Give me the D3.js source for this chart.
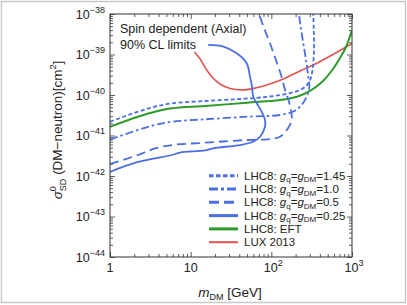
<!DOCTYPE html>
<html><head><meta charset="utf-8">
<script src="https://cdn.jsdelivr.net/npm/d3@7"></script>
<style>
body{margin:0;background:#fff}
svg{display:block}
text{font-family:"Liberation Sans",Arial,Helvetica,sans-serif;fill:#222}
</style>
</head><body>
<svg id="c" width="407" height="305"></svg>
<script>
// ---- data (mass in GeV, cross section in cm^2) ----
const mLUX   = [11.15,13.1,15.5,18.4,23.1,30.8,43.3,61,87.5,141,227,365,586,1000];
const sLUX   = [1.15e-39,7.74e-40,4.39e-40,2.78e-40,1.87e-40,1.45e-40,1.34e-40,1.46e-40,1.77e-40,2.48e-40,3.92e-40,6.07e-40,1.01e-39,1.87e-39];

const mEFT   = [1,2.22,3.61,5.87,15.1,49.9,128,208,302,437,581,710,842,1000];
const sEFT   = [1.65e-41,2.91e-41,3.87e-41,4.70e-41,5.35e-41,6.46e-41,7.53e-41,9.08e-41,1.26e-40,2.22e-40,4.39e-40,8.20e-40,1.53e-39,4.03e-39];

const m145   = [1,2.22,3.61,5.87,15.1,40.9,96.2,170,227,269,302,324,338,336,331];
const s145   = [2.19e-41,3.87e-41,5.14e-41,6.24e-41,7.11e-41,7.96e-41,9.18e-41,1.12e-40,1.33e-40,1.67e-40,2.34e-40,4.14e-40,1.29e-39,4.03e-39,1e-38];

const m100   = [1,2.22,3.61,5.87,15.1,49.9,128,185,227,274,296,287,269,249,231,220];
const s100   = [7.96e-42,1.37e-41,1.82e-41,2.19e-41,2.51e-41,2.91e-41,3.21e-41,3.87e-41,5.14e-41,9.08e-41,1.60e-40,2.83e-40,7.31e-40,1.89e-39,4.85e-39,1e-38];

const m050   = [1,2.22,3.61,5.87,15.1,49.9,88.3,128,161,179,175,163,148,134,114,96.2,81.1,70.3];
const s050   = [1.98e-42,3.30e-42,4.78e-42,5.82e-42,6.64e-42,7.74e-42,8.05e-42,9.33e-42,1.51e-41,2.42e-41,4.27e-41,7.53e-41,1.33e-40,2.83e-40,7.31e-40,1.89e-39,4.51e-39,1e-38];

const m025   = [1,2.22,5.87,7.38,15.1,18.9,40.9,59.3,72.3,83.4,83.4,75.9,65.9,59.7,57.1,54.4,49.5,37.2,25.4,16.5];
const s025   = [1.26e-42,2.22e-42,3.30e-42,3.80e-42,4.27e-42,4.83e-42,5.82e-42,7.03e-42,9.33e-42,1.65e-41,2.42e-41,3.87e-41,6.24e-41,9.08e-41,1.77e-40,2.83e-40,6.07e-40,1.07e-39,1.56e-39,1.72e-39];

const xMajor = [1,10,100,1000];
const xLabelBase = ["1","10","10","10"];
const xLabelExp  = ["","","2","3"];
const yExponents = [-44,-43,-42,-41,-40,-39,-38];

const legendSeries = [
  {key:"1.45", dash:"4.5,2.5", color:"#4a6fe3", w:3},
  {key:"1.0",  dash:"9,3,3,3", color:"#4a6fe3", w:3},
  {key:"0.5",  dash:"10,5",    color:"#4a6fe3", w:3},
  {key:"0.25", dash:null,      color:"#4a6fe3", w:3},
  {key:"EFT",  dash:null,      color:"#2e9a2a", w:3},
  {key:"LUX",  dash:null,      color:"#e0524c", w:2}
];

// ---- layout ----
const svg = d3.select("#c");
const L=110, R=352, T=14, B=257;
const x = d3.scaleLog().domain([1,1000]).range([L,R]);
const y = d3.scaleLog().domain([1e-44,1e-38]).range([B,T]);

// outer border
svg.append("rect").attr("x",1.5).attr("y",1.5).attr("width",404).attr("height",301)
  .attr("fill","none").attr("stroke","#c9c9c9").attr("stroke-width",1.5);

// minor tick values
const xMinor=[], yMinor=[];
[1,10,100].forEach(d=>{for(let k=2;k<=9;k++) xMinor.push(k*d);});
for(let e=-44;e<-38;e++){for(let k=2;k<=9;k++) yMinor.push(k*Math.pow(10,e));}
const yMajor = yExponents.map(e=>Math.pow(10,e));

function axisG(axis, tx, ty){
  const g = svg.append("g").attr("transform",`translate(${tx},${ty})`).call(axis);
  g.select(".domain").remove();
  g.selectAll("line").attr("stroke","#333").attr("stroke-width",0.8);
  return g;
}
axisG(d3.axisBottom(x).tickValues(xMajor).tickSize(-5).tickFormat(""),0,B);
axisG(d3.axisBottom(x).tickValues(xMinor).tickSize(-3).tickFormat(""),0,B);
axisG(d3.axisTop(x).tickValues(xMajor).tickSize(-5).tickFormat(""),0,T);
axisG(d3.axisTop(x).tickValues(xMinor).tickSize(-3).tickFormat(""),0,T);
axisG(d3.axisLeft(y).tickValues(yMajor).tickSize(-5).tickFormat(""),L,0);
axisG(d3.axisLeft(y).tickValues(yMinor).tickSize(-3).tickFormat(""),L,0);
axisG(d3.axisRight(y).tickValues(yMajor).tickSize(-5).tickFormat(""),R,0);
axisG(d3.axisRight(y).tickValues(yMinor).tickSize(-3).tickFormat(""),R,0);

// clip
svg.append("clipPath").attr("id","clip").append("rect")
  .attr("x",L).attr("y",T).attr("width",R-L).attr("height",B-T);

const line = d3.line().x(d=>x(d[0])).y(d=>y(d[1])).curve(d3.curveCatmullRom.alpha(0.5));
const plot = svg.append("g").attr("clip-path","url(#clip)");
function series(ms, ss, color, w, dash){
  const p = plot.append("path").datum(ms.map((m,i)=>[m,ss[i]]))
    .attr("d",line).attr("fill","none").attr("stroke",color)
    .attr("stroke-width",w).attr("stroke-linejoin","round");
  if(dash) p.attr("stroke-dasharray",dash);
}
series(mLUX,sLUX,"#e0524c",1.6,null);
series(mEFT,sEFT,"#2e9a2a",2,null);
series(m025,s025,"#4a6fe3",1.8,null);
series(m050,s050,"#4a6fe3",1.8,"9,5");
series(m100,s100,"#4a6fe3",1.8,"8,3,2.5,3");
series(m145,s145,"#4a6fe3",1.8,"4,2.5");

// frame
svg.append("rect").attr("x",L).attr("y",T).attr("width",R-L).attr("height",B-T)
  .attr("fill","none").attr("stroke","#333").attr("stroke-width",1);

// y tick labels
yExponents.forEach(e=>{
  const t = svg.append("text").attr("x",105).attr("y",y(Math.pow(10,e))+4.5)
    .attr("text-anchor","end");
  t.append("tspan").attr("font-size",12.5).text("10");
  t.append("tspan").attr("font-size",9).attr("dy",-6).text("−"+Math.abs(e));
});
// x tick labels
xMajor.forEach((v,i)=>{
  const t = svg.append("text").attr("x",x(v)+(xLabelExp[i]?2:0)).attr("y",272)
    .attr("text-anchor","middle");
  t.append("tspan").attr("font-size",12.5).text(xLabelBase[i]);
  if(xLabelExp[i]) t.append("tspan").attr("font-size",9).attr("dy",-6).text(xLabelExp[i]);
});

// x title
const xt = svg.append("text").attr("x",230).attr("y",297).attr("text-anchor","middle").attr("font-size",13.5);
xt.append("tspan").attr("font-style","italic").text("m");
xt.append("tspan").attr("font-size",9).attr("dy",3).text("DM");
xt.append("tspan").attr("dy",-3).text(" [GeV]");

// y title
const yt = svg.append("text").attr("transform","translate(62,130) rotate(-90)")
  .attr("text-anchor","middle").attr("font-size",13.5);
yt.append("tspan").attr("font-style","italic").text("σ");
yt.append("tspan").attr("font-size",9).attr("dy",-6).text("0");
yt.append("tspan").attr("font-size",9).attr("dx",-5).attr("dy",10).text("SD");
yt.append("tspan").attr("dy",-4).text(" (DM−neutron)[cm");
yt.append("tspan").attr("font-size",9).attr("dy",-6).text("2");
yt.append("tspan").attr("dy",6).text("]");

// annotation
svg.append("text").attr("x",120).attr("y",33).attr("font-size",12.5).text("Spin dependent (Axial)");
svg.append("text").attr("x",120).attr("y",49).attr("font-size",12.5).text("90% CL limits");

// legend
const lg = svg.append("g");
legendSeries.forEach((s,i)=>{
  const yy = 175.7 + i*13.3;
  const l = lg.append("line").attr("x1",209).attr("x2",238).attr("y1",yy).attr("y2",yy)
    .attr("stroke",s.color).attr("stroke-width",s.w);
  if(s.dash) l.attr("stroke-dasharray",s.dash);
  const t = lg.append("text").attr("x",244).attr("y",yy+4).attr("font-size",11.5);
  if(s.key==="EFT"){ t.text("LHC8: EFT"); }
  else if(s.key==="LUX"){ t.text("LUX 2013"); }
  else {
    t.append("tspan").text("LHC8: ");
    t.append("tspan").attr("font-style","italic").text("g");
    t.append("tspan").attr("font-size",8).attr("dy",2.5).text("q");
    t.append("tspan").attr("dy",-2.5).text("=");
    t.append("tspan").attr("font-style","italic").text("g");
    t.append("tspan").attr("font-size",8).attr("dy",2.5).text("DM");
    t.append("tspan").attr("dy",-2.5).text("="+s.key);
  }
});
</script>
</body></html>
